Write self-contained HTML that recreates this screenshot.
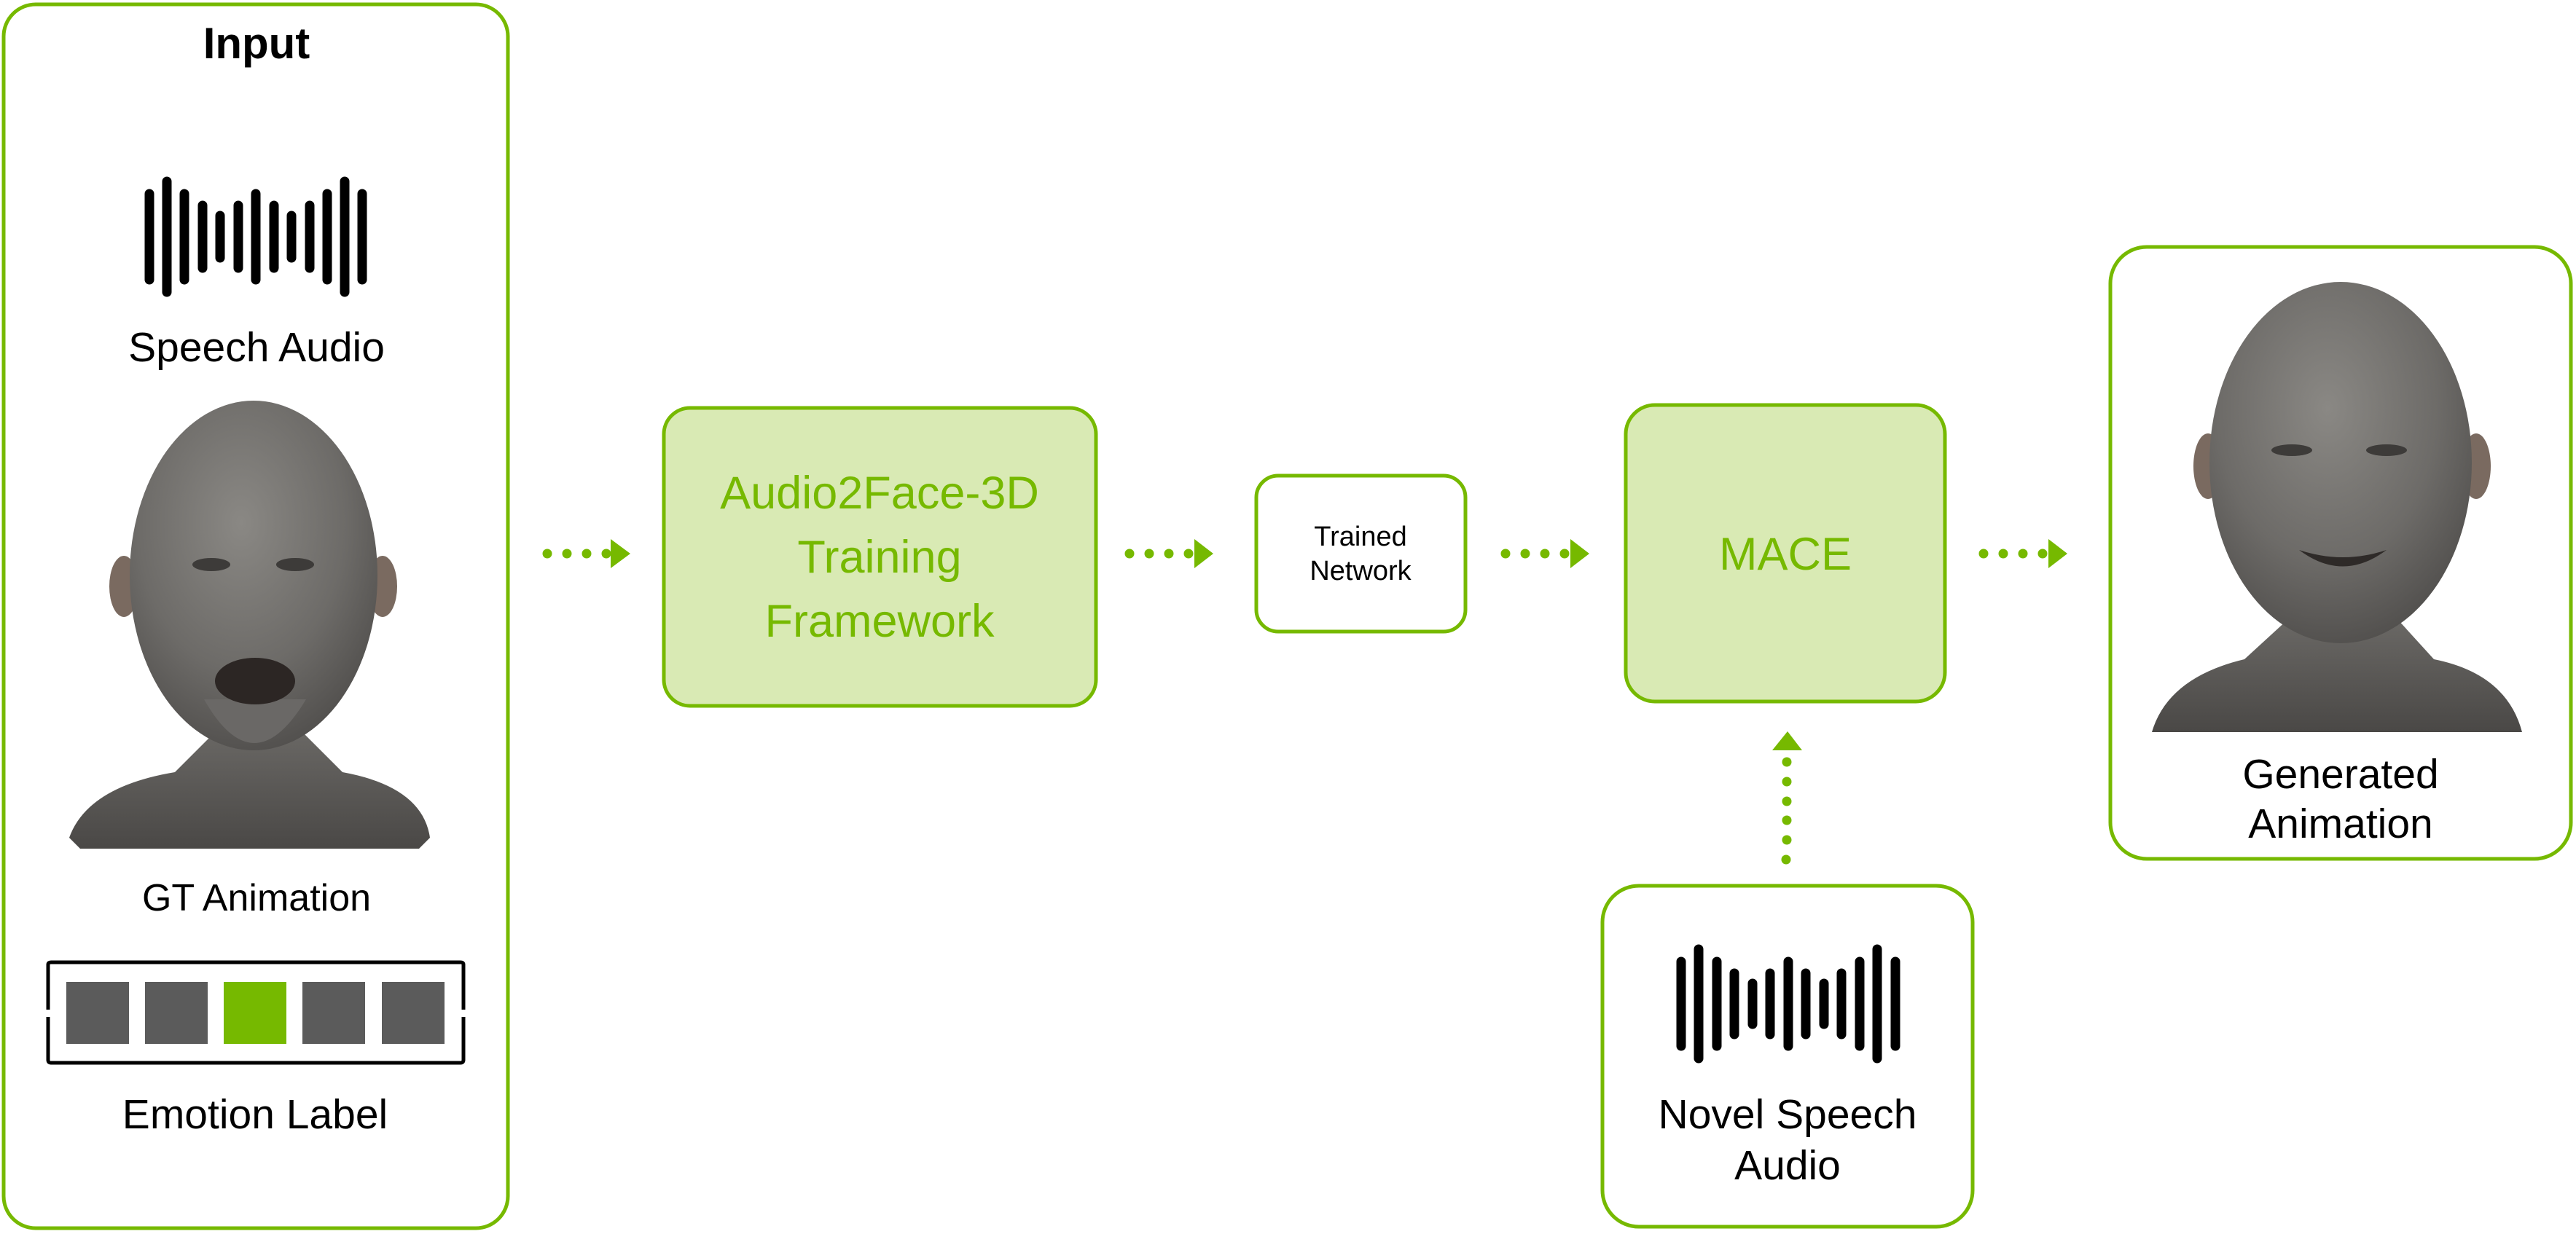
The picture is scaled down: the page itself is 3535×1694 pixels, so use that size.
<!DOCTYPE html>
<html><head><meta charset="utf-8"><style>
html,body{margin:0;padding:0;background:#fff;}
svg{display:block;}
text{font-family:"Liberation Sans",sans-serif;}
</style></head><body>
<svg width="3535" height="1694" viewBox="0 0 3535 1694" xmlns="http://www.w3.org/2000/svg">
<defs>
<radialGradient id="skin" cx="0.45" cy="0.35" r="0.7">
<stop offset="0" stop-color="#8a8884"/><stop offset="0.6" stop-color="#6d6b68"/><stop offset="1" stop-color="#4e4c4a"/>
</radialGradient>
<linearGradient id="body" x1="0" y1="0" x2="0" y2="1">
<stop offset="0" stop-color="#6a6865"/><stop offset="1" stop-color="#4a4846"/>
</linearGradient>
</defs>
<rect width="3535" height="1694" fill="#fff"/>

<!-- Input box -->
<rect x="5" y="6" width="692" height="1680" rx="44" fill="#fff" stroke="#76b900" stroke-width="5"/>
<text x="352" y="80" font-size="60" font-weight="bold" text-anchor="middle" fill="#000">Input</text>
<g stroke="#000" stroke-width="13" stroke-linecap="round">
<line x1="205" y1="266" x2="205" y2="384"/>
<line x1="229" y1="249" x2="229" y2="401"/>
<line x1="253" y1="266" x2="253" y2="384"/>
<line x1="278" y1="282" x2="278" y2="368"/>
<line x1="302" y1="296" x2="302" y2="354"/>
<line x1="327" y1="282" x2="327" y2="368"/>
<line x1="351" y1="266" x2="351" y2="384"/>
<line x1="376" y1="282" x2="376" y2="368"/>
<line x1="400" y1="296" x2="400" y2="354"/>
<line x1="425" y1="282" x2="425" y2="368"/>
<line x1="449" y1="266" x2="449" y2="384"/>
<line x1="473" y1="249" x2="473" y2="401"/>
<line x1="497" y1="266" x2="497" y2="384"/>
</g>
<text x="352" y="496" font-size="57" text-anchor="middle" fill="#000">Speech Audio</text>

<!-- Input head -->
<g>
<path d="M95 1150 Q120 1080 240 1060 L300 1000 L410 1000 L470 1060 Q580 1080 590 1150 L575 1165 L110 1165 Z" fill="url(#body)"/>
<ellipse cx="170" cy="805" rx="20" ry="42" fill="#7a6a60"/>
<ellipse cx="525" cy="805" rx="20" ry="42" fill="#7a6a60"/>
<ellipse cx="348" cy="790" rx="170" ry="240" fill="url(#skin)"/>
<path d="M280 960 Q348 1080 420 960" fill="#6a6866"/>
<ellipse cx="290" cy="775" rx="26" ry="9" fill="#3d3b39"/>
<ellipse cx="405" cy="775" rx="26" ry="9" fill="#3d3b39"/>
<ellipse cx="350" cy="935" rx="55" ry="32" fill="#2c2624"/>
</g>
<text x="352" y="1250" font-size="52" text-anchor="middle" fill="#000">GT Animation</text>

<!-- Emotion label -->
<path d="M66 1386 L66 1324 Q66 1321 70 1321 L632 1321 Q636 1321 636 1324 L636 1386" fill="none" stroke="#000" stroke-width="5"/>
<path d="M66 1396 L66 1455 Q66 1459 70 1459 L632 1459 Q636 1459 636 1455 L636 1396" fill="none" stroke="#000" stroke-width="5"/>
<rect x="91" y="1348" width="86" height="85" fill="#5b5b5b"/>
<rect x="199" y="1348" width="86" height="85" fill="#5b5b5b"/>
<rect x="307" y="1348" width="86" height="85" fill="#76b900"/>
<rect x="415" y="1348" width="86" height="85" fill="#5b5b5b"/>
<rect x="524" y="1348" width="86" height="85" fill="#5b5b5b"/>
<text x="350" y="1549" font-size="57" text-anchor="middle" fill="#000">Emotion Label</text>

<!-- Arrows -->
<g fill="#76b900">
<g transform="translate(751,760)">
<circle cx="0" cy="0" r="6.5"/><circle cx="27" cy="0" r="6.5"/><circle cx="54" cy="0" r="6.5"/><circle cx="81" cy="0" r="6.5"/>
<polygon points="87,-20 114,0 87,20"/>
</g>
<g transform="translate(1550,760)">
<circle cx="0" cy="0" r="6.5"/><circle cx="27" cy="0" r="6.5"/><circle cx="54" cy="0" r="6.5"/><circle cx="81" cy="0" r="6.5"/>
<polygon points="89,-20 115,0 89,20"/>
</g>
<g transform="translate(2066,760)">
<circle cx="0" cy="0" r="6.5"/><circle cx="27" cy="0" r="6.5"/><circle cx="54" cy="0" r="6.5"/><circle cx="81" cy="0" r="6.5"/>
<polygon points="89,-20 115,0 89,20"/>
</g>
<g transform="translate(2722,760)">
<circle cx="0" cy="0" r="6.5"/><circle cx="27" cy="0" r="6.5"/><circle cx="54" cy="0" r="6.5"/><circle cx="81" cy="0" r="6.5"/>
<polygon points="89,-20 115,0 89,20"/>
</g>
<g transform="translate(2452,0)">
<circle cx="0" cy="1046" r="6.5"/><circle cx="0" cy="1073" r="6.5"/><circle cx="0" cy="1100" r="6.5"/><circle cx="0" cy="1126" r="6.5"/><circle cx="0" cy="1153" r="6.5"/><circle cx="-1" cy="1180" r="6.5"/>
<polygon points="-20,1030 1,1004 21,1030"/>
</g>
</g>

<!-- Audio2Face box -->
<rect x="911" y="560" width="593" height="409" rx="36" fill="#d9eab4" stroke="#76b900" stroke-width="5"/>
<g font-size="63" fill="#76b900" text-anchor="middle">
<text x="1207" y="698">Audio2Face-3D</text>
<text x="1207" y="786">Training</text>
<text x="1207" y="874">Framework</text>
</g>

<!-- Trained Network -->
<rect x="1724" y="653" width="287" height="214" rx="30" fill="#fff" stroke="#76b900" stroke-width="5"/>
<g font-size="38" fill="#000" text-anchor="middle" font-family="'Liberation Sans Narrow','Liberation Sans',sans-serif">
<text x="1867" y="749" style="font-family:'Liberation Sans Narrow','Liberation Sans',sans-serif">Trained</text>
<text x="1867" y="796" style="font-family:'Liberation Sans Narrow','Liberation Sans',sans-serif">Network</text>
</g>

<!-- MACE -->
<rect x="2231" y="556" width="438" height="407" rx="40" fill="#d9eab4" stroke="#76b900" stroke-width="5"/>
<text x="2450" y="782" font-size="63" fill="#76b900" text-anchor="middle">MACE</text>

<!-- Novel Speech Audio -->
<rect x="2199" y="1216" width="508" height="468" rx="50" fill="#fff" stroke="#76b900" stroke-width="5"/>
<g stroke="#000" stroke-width="13" stroke-linecap="round">
<line x1="2307" y1="1320" x2="2307" y2="1436"/>
<line x1="2331" y1="1303" x2="2331" y2="1453"/>
<line x1="2356" y1="1320" x2="2356" y2="1436"/>
<line x1="2380" y1="1336" x2="2380" y2="1420"/>
<line x1="2405" y1="1350" x2="2405" y2="1406"/>
<line x1="2429" y1="1336" x2="2429" y2="1420"/>
<line x1="2454" y1="1320" x2="2454" y2="1436"/>
<line x1="2478" y1="1336" x2="2478" y2="1420"/>
<line x1="2503" y1="1350" x2="2503" y2="1406"/>
<line x1="2527" y1="1336" x2="2527" y2="1420"/>
<line x1="2552" y1="1320" x2="2552" y2="1436"/>
<line x1="2576" y1="1303" x2="2576" y2="1453"/>
<line x1="2601" y1="1320" x2="2601" y2="1436"/>
</g>
<g font-size="57" fill="#000" text-anchor="middle">
<text x="2453" y="1549">Novel Speech</text>
<text x="2453" y="1619">Audio</text>
</g>

<!-- Generated Animation -->
<rect x="2896" y="339" width="632" height="840" rx="50" fill="#fff" stroke="#76b900" stroke-width="5"/>
<g>
<path d="M2953 1005 Q2975 930 3080 905 L3140 850 L3290 850 L3340 905 Q3440 925 3461 1005 Z" fill="url(#body)"/>
<ellipse cx="3030" cy="640" rx="20" ry="45" fill="#7a6a60"/>
<ellipse cx="3398" cy="640" rx="20" ry="45" fill="#7a6a60"/>
<ellipse cx="3212" cy="635" rx="180" ry="248" fill="url(#skin)"/>
<ellipse cx="3145" cy="618" rx="28" ry="8" fill="#3d3b39"/>
<ellipse cx="3275" cy="618" rx="28" ry="8" fill="#3d3b39"/>
<path d="M3155 755 Q3215 800 3275 755 Q3215 775 3155 755 Z" fill="#2e2a28"/>
</g>
<g font-size="57" fill="#000" text-anchor="middle">
<text x="3212" y="1082">Generated</text>
<text x="3212" y="1150">Animation</text>
</g>
</svg>
</body></html>
